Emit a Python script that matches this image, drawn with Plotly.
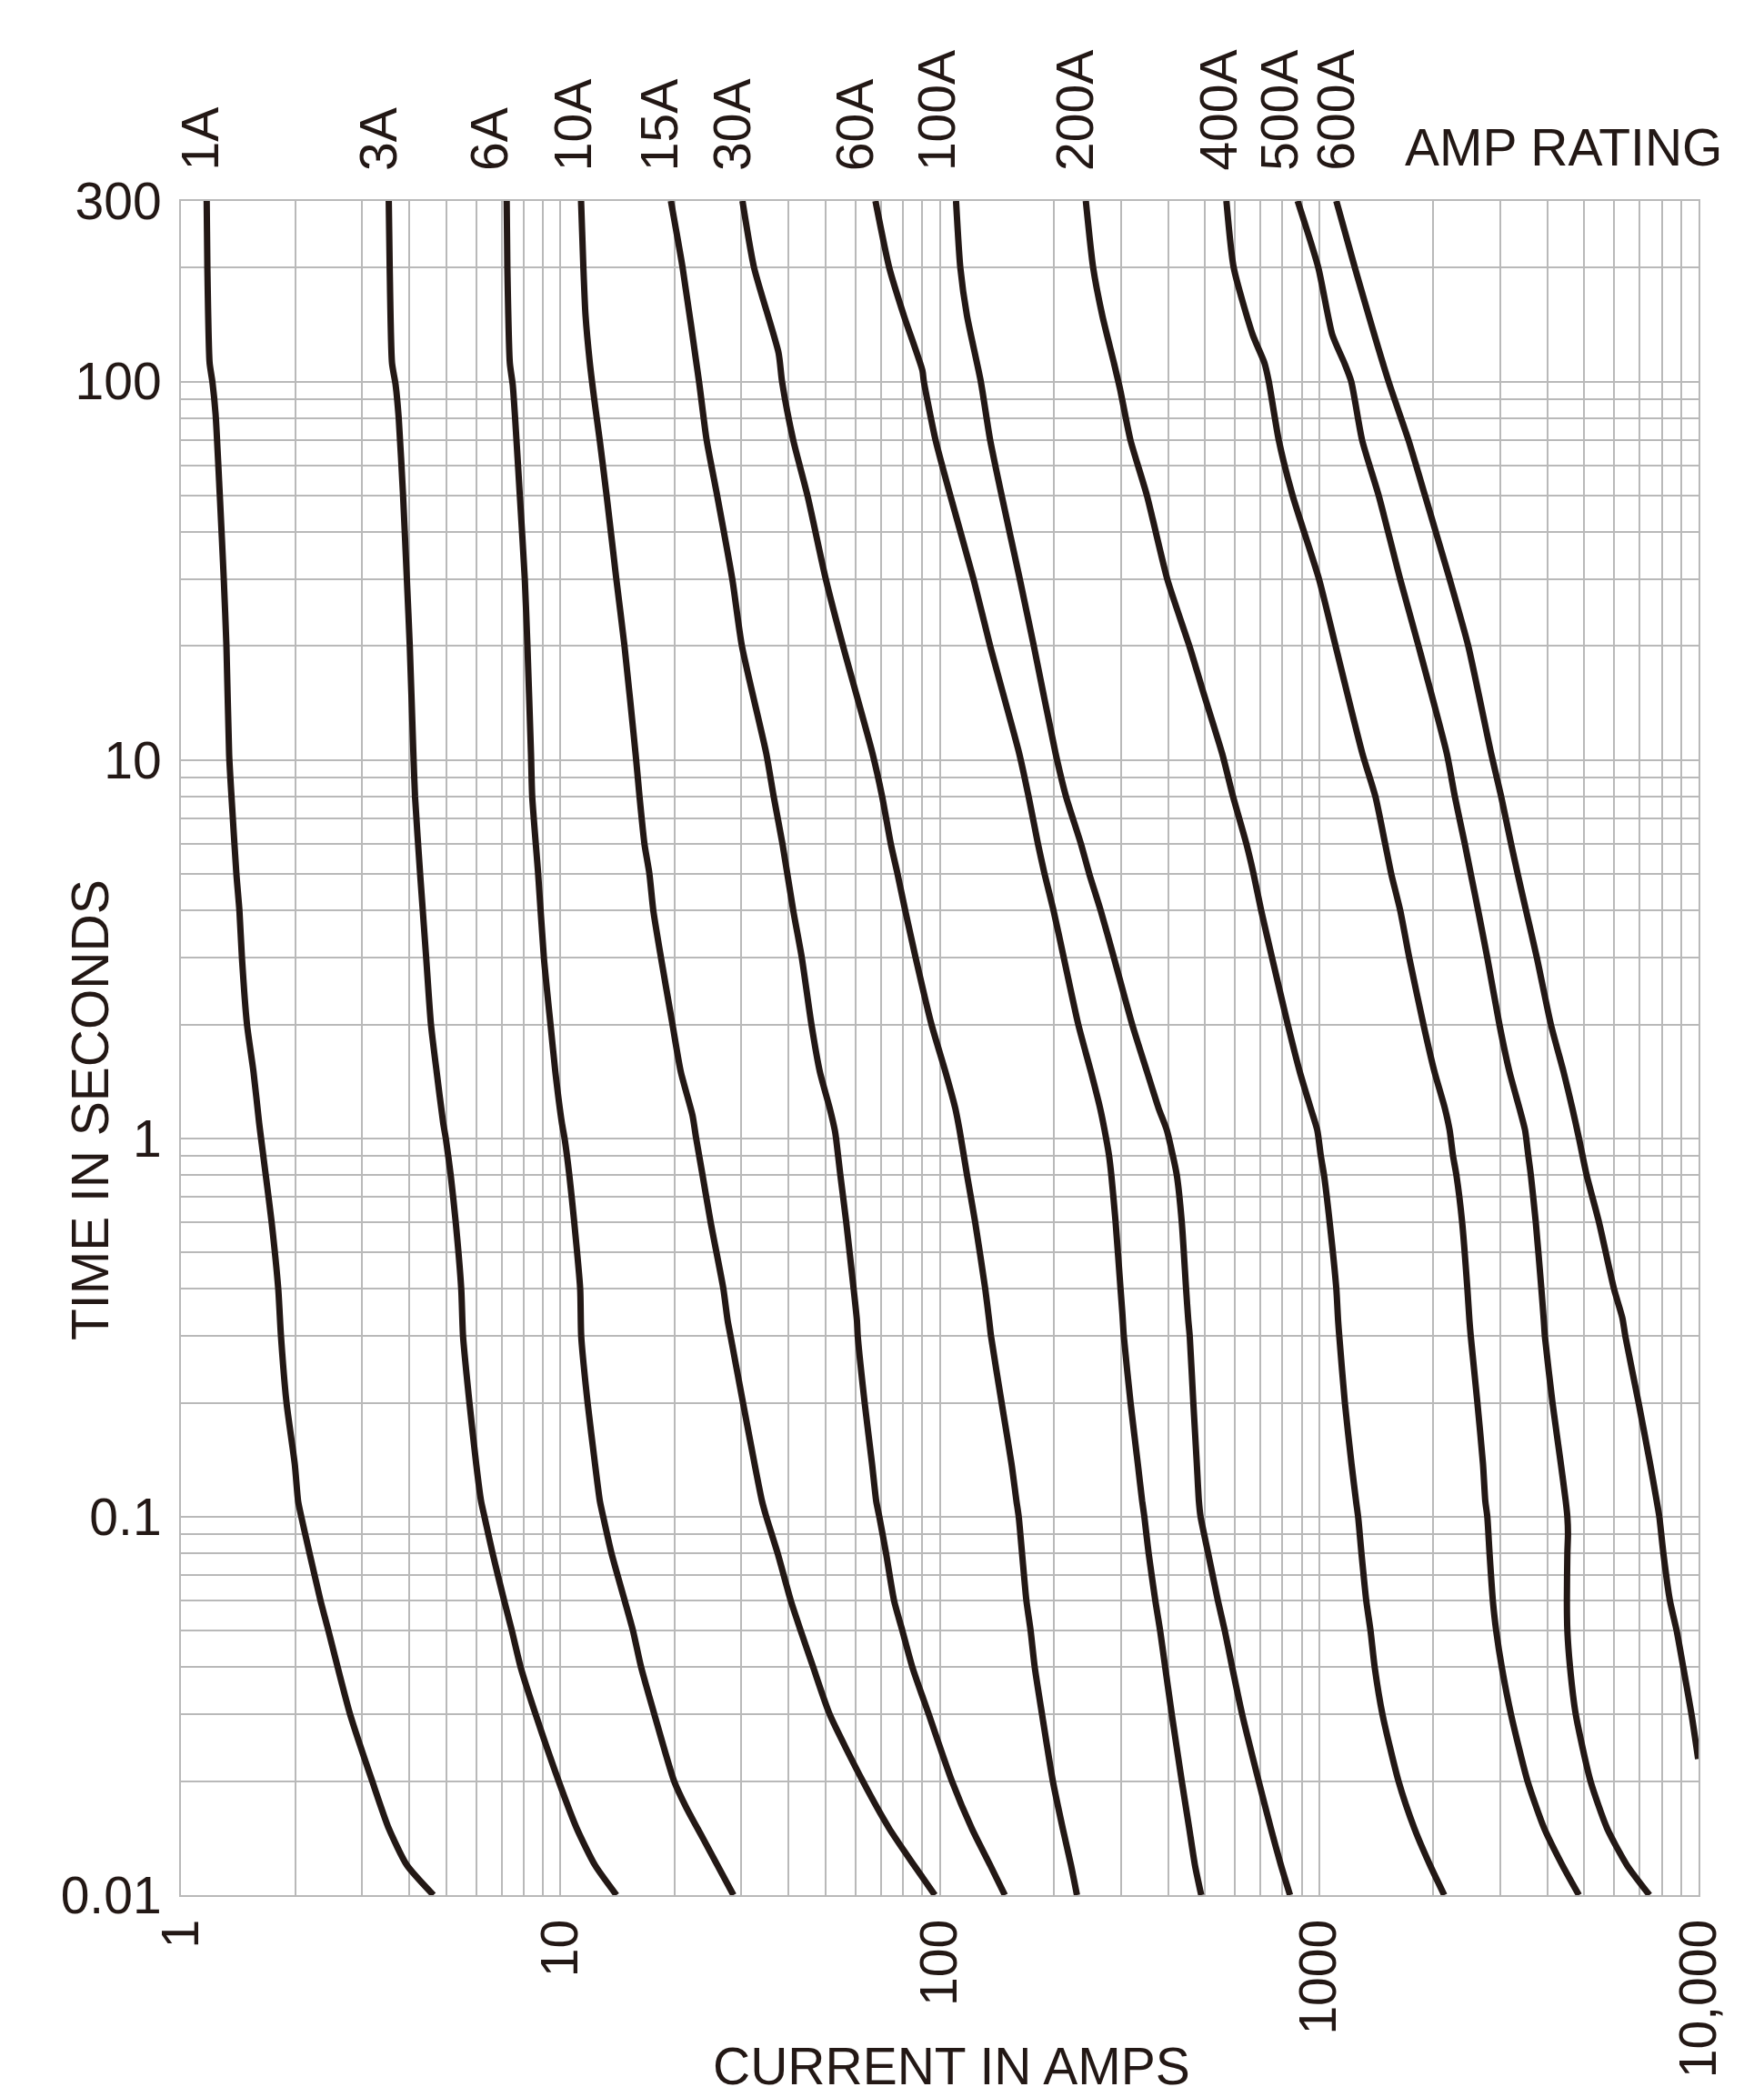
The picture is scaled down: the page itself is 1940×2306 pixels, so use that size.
import math
import plotly.graph_objects as go

# ---------------- data ----------------
ratings = ["1A", "3A", "6A", "10A", "15A", "30A", "60A", "100A", "200A", "400A", "500A", "600A"]

i_1a = [1.169, 1.174, 1.19, 1.21, 1.234, 1.266, 1.297, 1.318, 1.34, 1.359, 1.40, 1.426, 1.448, 1.493, 1.553, 1.607, 1.626,
        1.673, 1.734, 1.805, 1.835, 1.898, 1.995, 2.036, 2.076, 2.183, 2.333, 2.447, 2.589, 2.793, 3.193, 3.53, 3.94, 4.63]
t_1a = [300, 200, 112, 100, 82, 50, 30, 20, 10.3, 8, 5, 4, 3, 2, 1.5, 1.1, 1.0,
        0.8, 0.6, 0.4, 0.3, 0.2, 0.138, 0.11, 0.1, 0.08, 0.06, 0.05, 0.04, 0.03, 0.02, 0.015, 0.012, 0.01]

i_3a = [3.53, 3.55, 3.60, 3.68, 3.75, 3.85, 3.94, 4.01, 4.10, 4.14, 4.27, 4.43, 4.56, 4.72, 4.91, 4.99,
        5.14, 5.30, 5.48, 5.54, 5.76, 6.0, 6.18, 6.31, 6.63, 7.11, 7.45, 7.86, 8.61, 9.90, 11.05, 12.34, 14.06]
t_3a = [300, 200, 112, 98, 80, 50, 30, 20, 10.3, 8, 5, 3, 2, 1.5, 1.1, 1.0,
        0.8, 0.6, 0.4, 0.3, 0.2, 0.138, 0.11, 0.1, 0.08, 0.06, 0.05, 0.04, 0.03, 0.02, 0.015, 0.012, 0.01]

i_6a = [7.22, 7.25, 7.36, 7.49, 7.6, 7.82, 8.06, 8.19, 8.37, 8.43, 8.74, 9.05, 9.42, 9.70, 10.09, 10.26,
        10.56, 10.88, 11.28, 11.35, 11.8, 12.34, 12.71, 12.97, 13.64, 14.78, 15.54, 16.33, 17.7, 19.95, 21.5, 23.7, 28.6]
t_6a = [300, 200, 112, 98, 80, 50, 30, 20, 10.3, 8, 5, 3, 2, 1.5, 1.1, 1.0,
        0.8, 0.6, 0.4, 0.3, 0.2, 0.138, 0.11, 0.1, 0.08, 0.06, 0.05, 0.04, 0.03, 0.02, 0.017, 0.0142, 0.01]

i_10a = [11.34, 11.5, 11.65, 11.96, 12.28, 12.7, 13.24, 14.05, 14.76, 15.8, 16.17, 16.66, 17.17, 17.58, 18.42, 19.75,
         20.77, 22.3, 22.8, 23.7, 24.9, 26.9, 27.6, 28.1, 30.3, 32.5, 34.0, 34.9, 37.4, 40.5, 43.0, 46.4, 51.3, 62.7,
         73.6, 85.5, 97.1]
t_10a = [300, 200, 150, 112, 90, 70, 50, 30, 20, 10.3, 8, 6, 5, 4, 3, 2,
         1.5, 1.15, 1.0, 0.8, 0.6, 0.4, 0.33, 0.3, 0.2, 0.138, 0.11, 0.1, 0.08, 0.06, 0.05, 0.04, 0.03, 0.02,
         0.015, 0.012, 0.01]

i_15a = [19.56, 21.0, 23.2, 24.3, 25.9, 28.4, 30.1, 34.9, 36.5, 38.5, 41.1, 43.3, 45.9, 48.3, 51.3, 52.9, 53.3,
         54.7, 56.7, 59.3, 60.5, 60.8, 63.4, 66.3, 68.0, 69.3, 72.2, 75.8, 79.7, 84.7, 93.6, 107.7, 121.5, 135.8, 148.5]
t_15a = [300, 200, 100, 70, 50, 30, 20, 10.4, 8, 6, 4, 3, 2, 1.5, 1.2, 1.05, 1.0,
         0.8, 0.6, 0.4, 0.33, 0.3, 0.2, 0.138, 0.11, 0.1, 0.08, 0.06, 0.05, 0.04, 0.03, 0.02, 0.015, 0.012, 0.01]

i_30a = [30.2, 32.4, 37.6, 38.4, 41.1, 44.8, 50.1, 55.6, 66.5, 70.5, 74.3, 77.4, 81.1, 86.4, 95.1, 103.5, 109.9, 112.8,
         118.0, 124.0, 131.8, 135.0, 136.5, 145.6, 154.6, 159.3, 161.5, 164.8, 169.2, 173.6, 178.0, 186.1, 198.7,
         211.0, 221.8, 230.0]
t_30a = [300, 200, 119, 100, 70, 50, 30, 20, 10.4, 8, 6, 5, 4, 3, 2, 1.5, 1.2, 1.05,
         0.8, 0.6, 0.4, 0.33, 0.3, 0.2, 0.138, 0.11, 0.1, 0.08, 0.06, 0.05, 0.04, 0.03, 0.02,
         0.015, 0.012, 0.01]

i_60a = [67.7, 73.6, 80.5, 90.0, 90.8, 97.5, 106.6, 122.8, 135.8, 162.0, 171.5, 181.5, 188.9, 199.5, 212.3, 231.8,
         250.3, 264.7, 272.0, 279.4, 283.3, 290.8, 299.6, 303.0, 305.6, 318.4, 332.7, 341.6, 346.2, 355.3, 370.0,
         381.0, 392.9, 409.0, 434.5, 454.6, 470.6, 489.0]
t_60a = [300, 200, 149, 107, 100, 70, 50, 30, 20, 10.4, 8, 6, 5, 4, 3, 2,
         1.5, 1.2, 1.05, 0.9, 0.8, 0.6, 0.4, 0.344, 0.3, 0.2, 0.138, 0.11, 0.1, 0.08, 0.06,
         0.05, 0.04, 0.03, 0.02, 0.015, 0.012, 0.01]

i_100a = [110.4, 113.3, 118.0, 128.3, 135.8, 145.6, 162.6, 177.0, 202.0, 215.2, 235.6, 247.8, 265.6, 287.8, 321.5,
          351.8, 377.5, 396.9, 411.5, 421.5, 434.5, 446.0, 452.0, 456.0, 466.0, 476.0, 482.0, 487.0, 510.0, 541.0,
          564.0, 590.0, 627.0, 693.0, 746.0, 793.0, 838.0]
t_100a = [300, 200, 149, 100, 70, 50, 30, 20, 10.4, 8, 6, 5, 4, 3, 2,
          1.5, 1.2, 1.05, 0.9, 0.8, 0.6, 0.4, 0.33, 0.3, 0.2, 0.138, 0.11, 0.1, 0.08, 0.06,
          0.05, 0.04, 0.03, 0.02, 0.015, 0.012, 0.01]

i_200a = [242.7, 253.7, 268.4, 287.8, 298.6, 318.2, 351.6, 398.0, 455.0, 493.0, 555.0, 593.0, 643.0, 671.6, 703.5,
          751.5, 826.6, 889.0, 950.0, 989.0, 1010.0, 1030.0, 1066.0, 1110.0, 1122.0, 1130.0, 1169.0, 1217.0, 1251.0,
          1267.0, 1293.0, 1331.0, 1366.0, 1401.0, 1469.0, 1619.0, 1783.0, 1960.0, 2137.0]
t_200a = [300, 200, 149, 112, 95.7, 70, 50, 30, 20, 15.3, 10.4, 8, 6, 5, 4,
          3, 2, 1.5, 1.2, 1.05, 0.9, 0.8, 0.6, 0.4, 0.33, 0.3, 0.2, 0.138, 0.11,
          0.1, 0.08, 0.06, 0.05, 0.04, 0.03, 0.02, 0.015, 0.012, 0.01]

i_400a = [569.6, 595.4, 668.0, 717.5, 736.7, 782.7, 851.0, 999.7, 1105.0, 1300.0, 1407.0, 1493.0, 1549.0, 1636.0,
          1728.0, 1883.0, 2013.0, 2145.0, 2208.0, 2253.0, 2300.0, 2382.0, 2459.0, 2490.0, 2510.0, 2613.0, 2703.0,
          2741.0, 2775.0, 2813.0, 2870.0, 2928.0, 3030.0, 3205.0, 3543.0, 3920.0, 4376.0, 4840.0]
t_400a = [300, 200, 133, 112, 100, 70, 50, 30, 20, 10.4, 8, 6, 5, 4,
          3, 2, 1.5, 1.2, 1.05, 0.9, 0.8, 0.6, 0.4, 0.33, 0.3, 0.2, 0.138,
          0.11, 0.1, 0.08, 0.06, 0.05, 0.04, 0.03, 0.02, 0.015, 0.012, 0.01]

i_500a = [877.6, 995.0, 1083.0, 1165.0, 1215.0, 1298.0, 1435.0, 1636.0, 1828.0, 2170.0, 2279.0, 2421.0, 2510.0,
          2625.0, 2775.0, 2986.0, 3174.0, 3373.0, 3490.0, 3559.0, 3614.0, 3724.0, 3853.0, 3910.0, 3935.0, 4122.0,
          4336.0, 4466.0, 4511.0, 4528.0, 4511.0, 4498.0, 4511.0, 4585.0, 4747.0, 5192.0, 5743.0, 6476.0, 7426.0]
t_500a = [300, 200, 133, 112, 100, 70, 50, 30, 20, 10.4, 8, 6, 5,
          4, 3, 2, 1.5, 1.2, 1.05, 0.9, 0.8, 0.6, 0.4, 0.33, 0.3, 0.2,
          0.138, 0.11, 0.1, 0.09, 0.08, 0.06, 0.05, 0.04, 0.03, 0.02, 0.015, 0.012, 0.01]

i_600a = [1110.0, 1242.0, 1524.0, 1720.0, 1901.0, 2209.0, 2472.0, 2840.0, 3019.0, 3206.0, 3337.0, 3510.0, 3749.0,
          4081.0, 4407.0, 4650.0, 4840.0, 5070.0, 5466.0, 5987.0, 6300.0, 6413.0, 6951.0, 7454.0, 7758.0, 7882.0,
          8079.0, 8406.0, 8756.0, 9114.0, 9585.0, 9977.0]
t_600a = [300, 200, 100, 70, 50, 30, 20, 10.4, 8, 6, 5, 4, 3,
          2, 1.5, 1.2, 1.0, 0.8, 0.6, 0.4, 0.335, 0.3, 0.2, 0.138, 0.11, 0.1,
          0.08, 0.06, 0.05, 0.04, 0.03, 0.0229]

# current at which each rating label stands above the chart
label_current = [1.12, 3.31, 6.49, 10.83, 18.3, 28.4, 59.9, 98.4, 227.5, 543, 787, 1107]

x_tickvals = [1, 10, 100, 1000, 10000]
x_ticktext = ["1", "10", "100", "1000", "10,000"]
y_tickvals = [0.01, 0.1, 1, 10, 100, 300]
y_ticktext = ["0.01", "0.1", "1", "10", "100", "300"]

# ---------------- figure ----------------
INK = "#231815"
GRID = "#b9b9b9"
FONT = "Liberation Sans, Arial, sans-serif"
FS = 57

currents = [i_1a, i_3a, i_6a, i_10a, i_15a, i_30a, i_60a, i_100a, i_200a, i_400a, i_500a, i_600a]
times = [t_1a, t_3a, t_6a, t_10a, t_15a, t_30a, t_60a, t_100a, t_200a, t_400a, t_500a, t_600a]

fig = go.Figure()
for name, xs, ys in zip(ratings, currents, times):
    fig.add_trace(go.Scatter(x=xs, y=ys, mode="lines", name=name,
                             line=dict(color=INK, width=7, shape="spline", smoothing=0.6),
                             showlegend=False, hoverinfo="skip"))

x_minor = [k * 10 ** n for n in range(0, 4) for k in range(2, 10)]
y_minor = [k * 10 ** n for n in range(-2, 3) for k in range(2, 10) if k * 10 ** n < 300]

W, H = 1940, 2306
L_M, R_M, T_M, B_M = 191, 80, 213, 230

fig.update_layout(
    width=W, height=H,
    margin=dict(l=L_M, r=R_M, t=T_M, b=B_M),
    paper_bgcolor="white", plot_bgcolor="white",
    font=dict(family=FONT, size=FS, color=INK),
    showlegend=False,
)
fig.update_xaxes(
    type="log", range=[0, 4],
    tickmode="array", tickvals=x_tickvals, ticktext=x_ticktext, tickangle=-90,
    tickfont=dict(family=FONT, size=FS, color=INK),
    showgrid=True, gridcolor=GRID, gridwidth=2,
    minor=dict(tickmode="array", tickvals=x_minor, showgrid=True, gridcolor=GRID, gridwidth=2, ticks=""),
    showline=True, linecolor=GRID, linewidth=2, mirror=True,
    ticks="", ticklabelstandoff=2, zeroline=False,
)
fig.update_yaxes(
    type="log", range=[-2, 2.4771],
    tickmode="array", tickvals=y_tickvals, ticktext=y_ticktext,
    tickfont=dict(family=FONT, size=FS, color=INK),
    showgrid=True, gridcolor=GRID, gridwidth=2,
    minor=dict(tickmode="array", tickvals=y_minor, showgrid=True, gridcolor=GRID, gridwidth=2, ticks=""),
    showline=True, linecolor=GRID, linewidth=2, mirror=True,
    ticks="", ticklabelstandoff=8, zeroline=False,
)

plot_w = W - L_M - R_M
plot_h = H - T_M - B_M

def px_to_paper_x(px):
    return (px - L_M) / plot_w

def px_to_paper_y(py):
    return (H - B_M - py) / plot_h

annotations = []
for name, xc in zip(ratings, label_current):
    annotations.append(dict(
        x=math.log10(xc), xref="x", y=px_to_paper_y(182), yref="paper",
        text=name, textangle=-90, showarrow=False,
        xanchor="center", yanchor="bottom",
        font=dict(family=FONT, size=FS, color=INK),
    ))
annotations.append(dict(
    x=px_to_paper_x(1888), xref="paper", y=px_to_paper_y(188), yref="paper",
    text="AMP RATING", showarrow=False, xanchor="right", yanchor="bottom",
    font=dict(family=FONT, size=FS, color=INK),
))
annotations.append(dict(
    x=px_to_paper_x(91), xref="paper", y=px_to_paper_y(1213), yref="paper",
    text="TIME IN SECONDS", textangle=-90, showarrow=False,
    xanchor="center", yanchor="middle",
    font=dict(family=FONT, size=FS, color=INK),
))
annotations.append(dict(
    x=px_to_paper_x(1038), xref="paper", y=px_to_paper_y(2264), yref="paper",
    text="CURRENT IN AMPS", showarrow=False,
    xanchor="center", yanchor="middle",
    font=dict(family=FONT, size=FS, color=INK),
))
fig.update_layout(annotations=annotations)

fig.write_html("out.html")
